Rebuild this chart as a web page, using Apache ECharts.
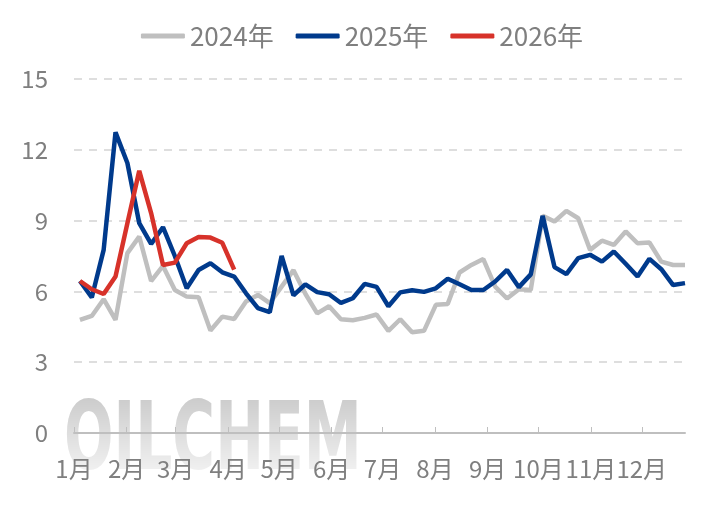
<!DOCTYPE html>
<html><head><meta charset="utf-8">
<script src="https://cdn.jsdelivr.net/npm/echarts@6/dist/echarts.min.js"></script>
<style>html,body{margin:0;padding:0;background:#fff}#c{width:724px;height:520px}</style>
</head><body><div id="c"></div><script>
const seriesNames = ['2024年', '2025年', '2026年'];
const monthLabels = ['1月','2月','3月','4月','5月','6月','7月','8月','9月','10月','11月','12月'];
const monthStartDays = [0, 31, 60, 91, 121, 152, 182, 213, 244, 274, 305, 335];
const yMin = 0, yMax = 15, yStep = 3;
const v2024 = [4.79, 4.96, 5.67, 4.79, 7.62, 8.32, 6.44, 7.08, 6.06, 5.78, 5.75, 4.34, 4.93, 4.83, 5.57, 5.85,
  5.5, 6.2, 6.9, 5.9, 5.07, 5.37, 4.82, 4.78, 4.88, 5.02, 4.33, 4.82, 4.27, 4.33, 5.43, 5.47,
  6.8, 7.12, 7.37, 6.2, 5.7, 6.09, 6.06, 9.2, 8.96, 9.41, 9.1, 7.76, 8.15, 7.97, 8.54, 8.04,
  8.07, 7.26, 7.12, 7.12];
const v2025 = [6.44, 5.74, 7.76, 12.74, 11.44, 8.89, 8.01, 8.72, 7.5, 6.13, 6.91, 7.19, 6.81, 6.63, 5.92, 5.29,
  5.12, 7.5, 5.83, 6.3, 5.97, 5.88, 5.51, 5.71, 6.32, 6.19, 5.37, 5.96, 6.05, 5.98, 6.13, 6.54,
  6.3, 6.06, 6.06, 6.42, 6.91, 6.18, 6.72, 9.2, 7.03, 6.73, 7.41, 7.55, 7.26, 7.69, 7.17, 6.63,
  7.38, 6.94, 6.27, 6.35];
const v2026 = [6.44, 6.09, 5.89, 6.63, 8.89, 11.11, 9.32, 7.12, 7.22, 8.04, 8.3, 8.28, 8.06, 6.92];
const seriesColors = ['#bfbfbf', '#003a8c', '#d7322a'];

// weekly observations: day-of-year of each week
const weekDay = i => 3.5 + 7 * i;
const toPairs = arr => arr.map((v, i) => [weekDay(i), v]);
const lastDay = weekDay(v2024.length - 1);

const chart = echarts.init(document.getElementById('c'), null, {renderer: 'canvas'});
const font = '"Noto Sans CJK SC", "Noto Sans", sans-serif';
const textGray = '#7f7f7f';
chart.setOption({
  animation: false,
  backgroundColor: '#ffffff',
  textStyle: {fontFamily: font},
  legend: {
    top: 18, left: 'center',
    icon: 'roundRect',
    itemWidth: 44, itemHeight: 5, itemGap: 22,
    textStyle: {fontSize: 26, color: textGray, fontFamily: font},
    data: seriesNames
  },
  grid: {left: 74, right: 39, top: 79, bottom: 87, containLabel: false},
  xAxis: {
    type: 'value', min: 0, max: lastDay,
    axisLine: {show: true, lineStyle: {color: '#bfbfbf', width: 2}},
    axisTick: {show: true, inside: true, length: 6, customValues: monthStartDays, lineStyle: {color: '#bfbfbf', width: 1}},
    axisLabel: {
      customValues: monthStartDays, fontSize: 24, color: textGray, margin: 24, fontFamily: font,
      formatter: v => monthLabels[monthStartDays.indexOf(Math.round(v))] || ''
    },
    splitLine: {show: false}
  },
  yAxis: {
    type: 'value', min: yMin, max: yMax, interval: yStep,
    axisLine: {show: false}, axisTick: {show: false},
    axisLabel: {fontSize: 24, color: textGray, margin: 26, fontFamily: font},
    splitLine: {show: true, lineStyle: {color: '#d4d4d4', width: 1.5, type: [8, 7]}}
  },
  graphic: [{
    type: 'text', left: 64, top: 398, z: -10, silent: true,
    scaleX: 0.62, originX: 0,
    style: {
      text: 'OILCHEM', font: 'bold 94px "DejaVu Sans", sans-serif',
      fill: '#cdcdcd'
    }
  }, {
    type: 'rect', z: -9, silent: true,
    shape: {x: 55, y: 400, width: 310, height: 85},
    style: {
      fill: new echarts.graphic.LinearGradient(0, 0, 0, 1, [
        {offset: 0, color: 'rgba(255,255,255,0)'},
        {offset: 1, color: 'rgba(255,255,255,0.85)'}
      ])
    }
  }],
  series: [
    {name: seriesNames[0], type: 'line', data: toPairs(v2024), symbol: 'none', z: 2,
     itemStyle: {color: seriesColors[0]}, lineStyle: {color: seriesColors[0], width: 4.5}},
    {name: seriesNames[1], type: 'line', data: toPairs(v2025), symbol: 'none', z: 3,
     itemStyle: {color: seriesColors[1]}, lineStyle: {color: seriesColors[1], width: 4.5}},
    {name: seriesNames[2], type: 'line', data: toPairs(v2026), symbol: 'none', z: 4,
     itemStyle: {color: seriesColors[2]}, lineStyle: {color: seriesColors[2], width: 4.5}}
  ]
});
</script></body></html>
